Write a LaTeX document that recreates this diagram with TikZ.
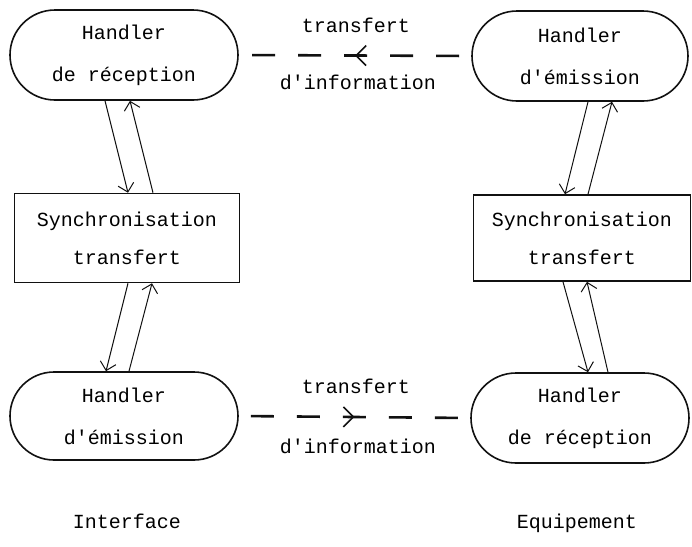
\documentclass[tikz,border=0pt]{standalone}
\usepackage{fontspec}
\usepackage{tikz}
\usetikzlibrary{
  arrows.meta,
  calc,
  decorations.markings,
  shapes.misc
}
\newfontfamily\typewr{Liberation Mono}
\definecolor{ink}{HTML}{111111}
\definecolor{paper}{HTML}{FFFFFF}
\tikzset{
  handler/.style={
    rounded rectangle,
    draw=ink,
    line width=0.8pt,
    inner sep=0pt,
    align=center,
    font=\typewr\fontsize{10}{21}\selectfont
  },
  syncbox/.style={
    rectangle,
    draw=ink,
    line width=0.8pt,
    inner sep=0pt,
    align=center,
    font=\typewr\fontsize{10}{19}\selectfont
  },
  link/.style={
    -{Straight Barb[length=4pt,width=8pt]},
    line width=0.5pt,
    draw=ink
  },
  transfer/.style={
    draw=ink,
    line width=1.3pt,
    dash pattern=on 11.5pt off 11.5pt,
    dash phase=17pt,
    postaction={decorate},
    decoration={markings,
      mark=at position 0.5 with {\arrow[line width=0.8pt]{Straight Barb[length=5pt,width=10pt]}}}
  },
  note/.style={
    inner sep=0pt,
    font=\typewr\fontsize{10}{12}\selectfont
  }
}

\begin{document}
\begin{tikzpicture}[x=0.5pt, y=-0.5pt]
  \useasboundingbox[fill=paper] (0,0) rectangle (692,547);

  % interface side
  \node[handler, minimum width=114pt, minimum height=45pt] (recvIface) at (124,55) {Handler\\de réception};
  \node[syncbox, minimum width=112.5pt, minimum height=44.5pt] (syncIface) at (127,238) {Synchronisation\\transfert};
  \node[handler, minimum width=114pt, minimum height=44pt] (emitIface) at (124,416) {Handler\\d'émission};

  % equipement side
  \node[handler, minimum width=108pt, minimum height=45pt] (emitEquip) at (580,56) {Handler\\d'émission};
  \node[syncbox, minimum width=108.5pt, minimum height=43pt] (syncEquip) at (582,238) {Synchronisation\\transfert};
  \node[handler, minimum width=109pt, minimum height=45pt] (recvEquip) at (580,418) {Handler\\de réception};

  \draw[link] ($(recvIface.south)+(-19,0)$) -- ($(syncIface.north)+(1,0)$);
  \draw[link] ($(syncIface.north)+(26,0)$) -- ($(recvIface.south)+(6,0)$);
  \draw[link] ($(syncIface.south)+(1,0)$) -- ($(emitIface.north)+(-18,0)$);
  \draw[link] ($(emitIface.north)+(5,0)$) -- ($(syncIface.south)+(25,0)$);

  \draw[link] ($(emitEquip.south)+(8,0)$) -- ($(syncEquip.north)+(-17,0)$);
  \draw[link] ($(syncEquip.north)+(6,0)$) -- ($(emitEquip.south)+(32,0)$);
  \draw[link] ($(syncEquip.south)+(-19,0)$) -- ($(recvEquip.north)+(8,0)$);
  \draw[link] ($(recvEquip.north)+(28,0)$) -- ($(syncEquip.south)+(5,0)$);

  \draw[transfer] (emitEquip.west) -- (recvIface.east);
  \draw[transfer] (emitIface.east) -- (recvEquip.west);

  \node[note] (topUp) at (356,25) {transfert};
  \node[note] (topDown) at (358,82) {d'information};
  \node[note] (botUp) at (356,386) {transfert};
  \node[note] (botDown) at (358,446) {d'information};

  \node[note] (iface) at (127,521) {Interface};
  \node[note] (equip) at (577,523) {Equipement};
\end{tikzpicture}
\end{document}
